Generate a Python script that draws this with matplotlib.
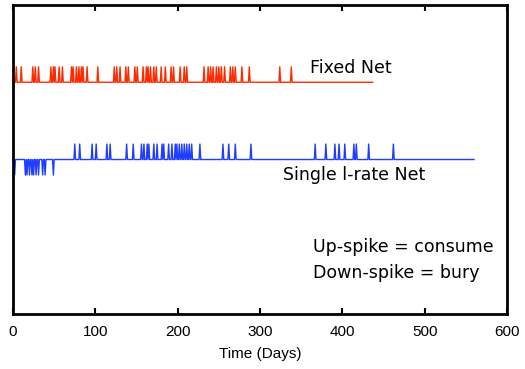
import numpy as np
import matplotlib.pyplot as plt

# days on which a consume (up) or bury (down) event happened
fixed_up_days = [4, 10, 24, 27, 31, 46, 49, 51, 56, 60, 71, 73, 77, 80, 83, 85, 90, 103,
                 123, 126, 130, 137, 140, 148, 151, 158, 162, 164, 167, 171, 174, 180,
                 185, 192, 195, 203, 208, 211, 232, 237, 240, 243, 247, 250, 253, 257,
                 264, 267, 270, 278, 287, 324, 338]
fixed_end = 437

single_up_days = [75, 81, 96, 101, 114, 118, 138, 146, 156, 159, 163, 165, 171, 175, 181,
                  183, 189, 193, 197, 199, 202, 205, 208, 211, 214, 217, 227, 255, 262,
                  270, 289, 367, 380, 391, 396, 403, 414, 417, 432, 462]
single_down_days = [2, 15, 17, 20, 23, 25, 28, 31, 36, 39, 49]
single_end = 560

fixed_base = 7.5
single_base = 5.0
spike = 0.5


def event_series(end, up_days, down_days=()):
    """Daily series: +1 on consume days, -1 on bury days, 0 otherwise."""
    s = np.zeros(end + 1)
    s[list(up_days)] = 1
    if down_days:
        s[list(down_days)] = -1
    return s


fixed = event_series(fixed_end, fixed_up_days)
single = event_series(single_end, single_up_days, single_down_days)

fig = plt.figure(figsize=(5.25, 3.69), dpi=100)
ax = fig.add_axes([0.0248, 0.149, 0.9409, 0.8374])

ax.plot(np.arange(len(fixed)), fixed_base + spike * fixed, color='#ff2a00', linewidth=1.0)
ax.plot(np.arange(len(single)), single_base + spike * single, color='#1f3dff', linewidth=1.0)

ax.text(361, 7.96, 'Fixed Net', fontsize=12.5, va='center', family='DejaVu Sans')
ax.text(328, 4.5, 'Single l-rate Net', fontsize=12.5, va='center', family='DejaVu Sans')
ax.text(364, 2.17, 'Up-spike = consume', fontsize=12.5, va='center', family='DejaVu Sans',
        clip_on=False)
ax.text(364, 1.33, 'Down-spike = bury', fontsize=12.5, va='center', family='DejaVu Sans',
        clip_on=False)

ax.set_xlim(0, 600)
ax.set_ylim(0, 10)
ax.set_xticks([0, 100, 200, 300, 400, 500, 600])
ax.set_yticks([])
ax.tick_params(axis='x', direction='in', top=True, length=4, width=1.5, pad=8,
               labelsize=11, labelfontfamily='Liberation Sans')
for sp in ax.spines.values():
    sp.set_linewidth(2)
ax.set_xlabel('Time (Days)', fontsize=11, family='Liberation Sans', labelpad=6)

fig.savefig('out.png', dpi=100)
